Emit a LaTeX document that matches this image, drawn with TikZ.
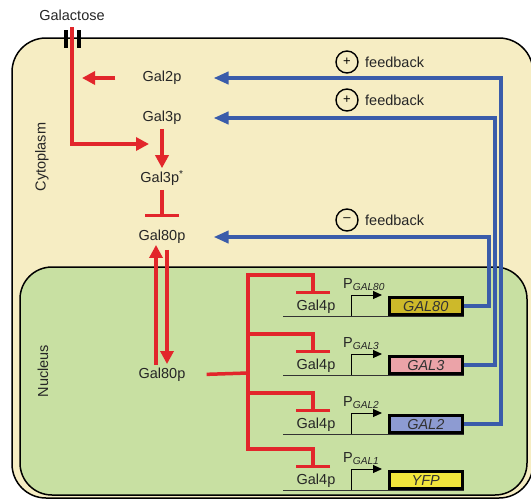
\documentclass[tikz,border=0pt]{standalone}
\usepackage{fontspec}
\setmainfont{Liberation Sans}
\usetikzlibrary{arrows.meta}
\definecolor{cyto}{HTML}{F6EDC3}
\definecolor{nuc}{HTML}{C8E0A2}
\definecolor{myred}{HTML}{E2262B}
\definecolor{myblue}{HTML}{3A5CAA}
\definecolor{cg80}{HTML}{CDB92A}
\definecolor{cg3}{HTML}{EBA3A8}
\definecolor{cg2}{HTML}{8D9BD2}
\definecolor{cyfp}{HTML}{F3E63C}
\begin{document}
\begin{tikzpicture}[x=1pt,y=-1pt,
  lbl/.style={font=\fontsize{14.5}{16}\selectfont, inner sep=1pt, text=black!85},
  redline/.style={draw=myred, line width=3.5pt},
  redarr/.style={redline, -{Triangle[length=13pt,width=13pt]}},
  redinh/.style={redline, -{Bar[width=34pt]}},
  bluearr/.style={draw=myblue, line width=3.8pt, -{Triangle[length=15pt,width=12pt]}},
  gene/.style={draw=black, line width=2.6pt, minimum width=73pt, minimum height=17pt, inner sep=0pt, font=\itshape\fontsize{14.5}{16}\selectfont, text=black!80},
  dna/.style={draw=black!80, line width=1pt},
  promarr/.style={draw=black, line width=1pt, -{Triangle[length=9pt,width=8pt]}},
  fbsign/.style={circle, draw=black, line width=1.4pt, minimum size=22pt, inner sep=0pt, font=\fontsize{13}{13}\selectfont},
  bar/.style={draw=black, line width=3.5pt}
]
\useasboundingbox (0,0) rectangle (531,501);
\begin{scope}
\clip (0,0) rectangle (531,501);
% compartments
\draw[fill=cyto, line width=1.5pt, rounded corners=34pt] (12,38) rectangle (533,498);
\draw[fill=nuc, line width=1.5pt, rounded corners=32pt] (20,267) rectangle (527,495);
\end{scope}
\node[lbl, rotate=90] (cytolbl) at (42,157) {Cytoplasm};
\node[lbl, rotate=90] (nuclbl) at (43,371) {Nucleus};

% galactose entry
\node[lbl] (galac) at (72,15) {Galactose};
\draw[bar] (66,30) -- (66,48);
\draw[bar] (79,30) -- (79,48);

% cytoplasm species
\node[lbl] (gal2p) at (162,78) {Gal2p};
\node[lbl] (gal3p) at (162,118) {Gal3p};
\node[lbl] (gal3ps) at (162,178) {Gal3p\textsuperscript{*}};
\node[lbl] (gal80c) at (162,237) {Gal80p};
\node[lbl] (gal80n) at (162,375) {Gal80p};

\coordinate (g2end) at (82,78);
\coordinate (junc) at (149,144);
\draw[redarr] (72,27) |- (junc);
\draw[redarr, shorten <=26pt] (gal2p.west) -- (g2end);
\draw[redarr, shorten <=3pt, shorten >=1pt] (gal3p.south) -- (gal3ps.north);
\draw[redinh, shorten <=3pt, shorten >=12pt] (gal3ps.south) -- (gal80c.north);
\draw[redarr, shorten <=2pt, shorten >=0pt] ([xshift=-6pt]gal80n.north) -- ([xshift=-6pt]gal80c.south);
\draw[redarr, shorten <=5pt, shorten >=3pt] ([xshift=5pt]gal80c.south) -- ([xshift=5pt]gal80n.north);

% nucleus trunk
\coordinate (trunk) at (248,373);
\draw[redline, shorten <=20pt] (gal80n.east) -- (trunk);
\draw[redline] (248,274) -- (248,450);

% gene rows
\foreach \b/\n/\c/\t/\s in {316/g80/cg80/GAL80/GAL80, 375/g3/cg3/GAL3/GAL3, 434/g2/cg2/GAL2/GAL2, 490/yfp/cyfp/YFP/GAL1} {
  \node[gene, fill=\c, anchor=south west] (gene\n) at (388,\b) {\t};
  \node[lbl] (gal4\n) at (316,\b-9) {Gal4p};
  \node[lbl, anchor=base west, inner sep=0pt] (prom\n) at (343,\b-28) {P\textsubscript{\itshape\s}};
  \draw[dna] (283,\b) -- (gene\n.south east);
  \draw[promarr] (351,\b) -- (351,\b-21) -- (382,\b-21);
  \draw[redinh] (246.25,\b-41) -| (313,\b-22);
}

% feedback loops
\draw[bluearr, shorten >=31pt] (geneg2.east) -- ++(37,0) |- (gal2p.east);
\draw[bluearr, shorten >=31pt] (geneg3.east) -- ++(31,0) |- (gal3p.east);
\draw[bluearr, shorten >=27pt] (geneg80.east) -- ++(25,0) |- (gal80c.east);

\node[fbsign] (fb1s) at (347,62) {+};
\node[lbl, anchor=west] (fb1) at (364,62) {feedback};
\node[fbsign] (fb2s) at (347,100) {+};
\node[lbl, anchor=west] (fb2) at (364,100) {feedback};
\node[fbsign] (fb3s) at (347,220) {\raisebox{1pt}{--}};
\node[lbl, anchor=west] (fb3) at (364,220) {feedback};
\end{tikzpicture}
\end{document}
